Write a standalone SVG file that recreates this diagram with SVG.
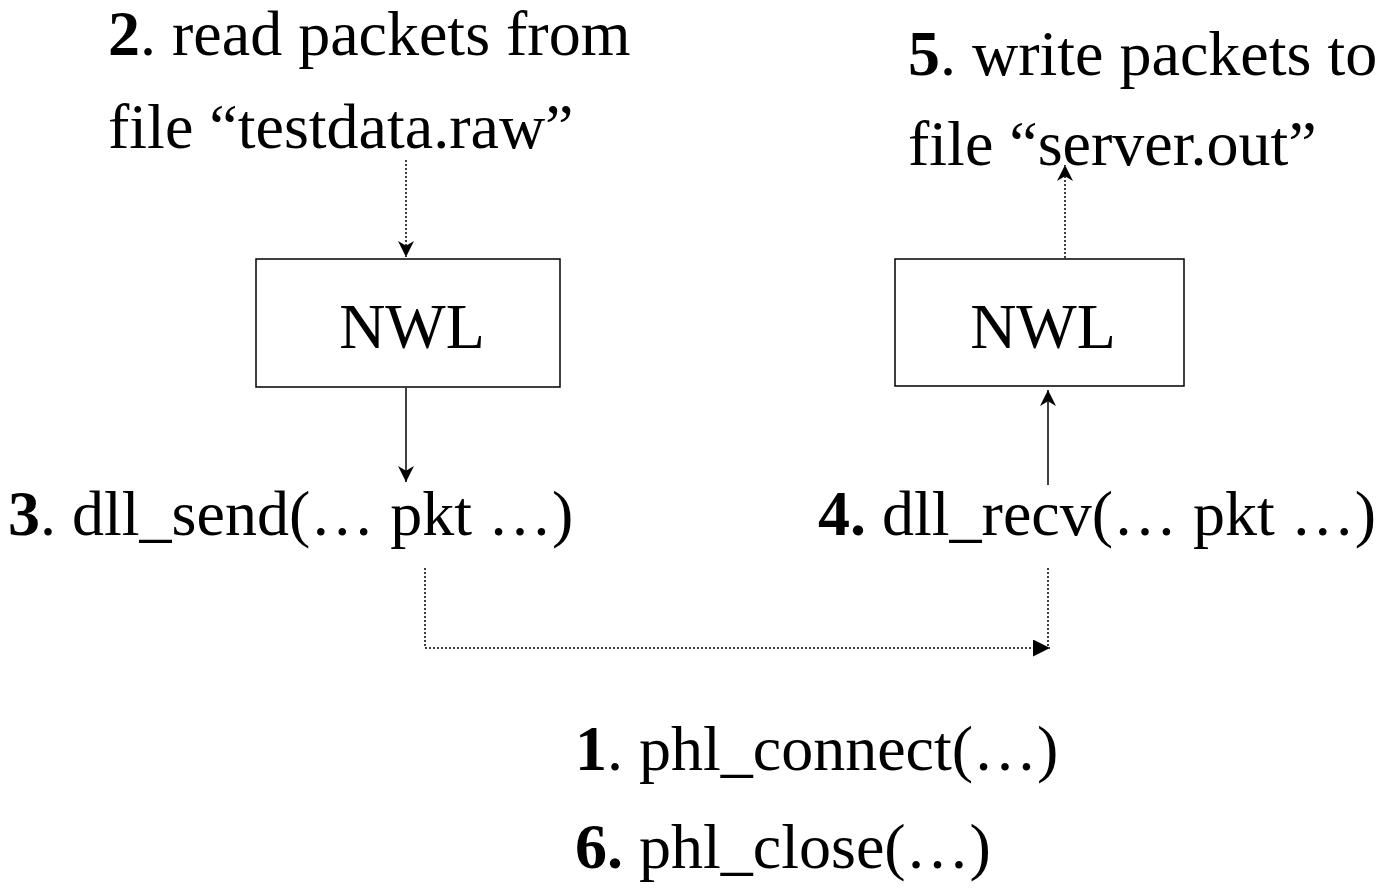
<svg xmlns="http://www.w3.org/2000/svg" width="1382" height="895" viewBox="0 0 1382 895">
<style>
text{font-family:"Liberation Serif","Times New Roman",serif;font-size:64px;fill:#000}
.b{font-weight:bold}
.box{fill:#fff;stroke:#000;stroke-width:1.5}
.solid{fill:none;stroke:#000;stroke-width:1.5}
.dot{fill:none;stroke:#000;stroke-width:1.5;stroke-dasharray:2 2}
</style>
<defs>
<marker id="ah" viewBox="0 0 10 10" refX="10" refY="5" markerWidth="18" markerHeight="16" markerUnits="userSpaceOnUse" orient="auto"><path d="M0,0 L10,5 L0,10 L3,5 z" fill="#000"/></marker>
<marker id="tri" viewBox="0 0 10 10" refX="10" refY="5" markerWidth="17" markerHeight="17" markerUnits="userSpaceOnUse" orient="auto"><path d="M0,0 L10,5 L0,10 z" fill="#000"/></marker>
</defs>
<g id="label2"><text x="108" y="55"><tspan class="b">2</tspan>. read packets from</text><text x="108" y="148">file “testdata.raw”</text></g>
<g id="label5"><text x="908" y="75"><tspan class="b">5</tspan>. write packets to</text><text x="908" y="165">file “server.out”</text></g>
<g id="nwl-left"><rect class="box" x="256" y="259" width="304" height="128"/><text x="412" y="348" text-anchor="middle">NWL</text></g>
<g id="nwl-right"><rect class="box" x="895" y="259" width="289" height="127"/><text x="1043" y="348" text-anchor="middle">NWL</text></g>
<g id="label3"><text x="8" y="535"><tspan class="b">3</tspan>. dll_send(… pkt …)</text></g>
<g id="label4"><text x="818" y="535"><tspan class="b">4.</tspan> dll_recv(… pkt …)</text></g>
<g id="label1"><text x="575" y="770"><tspan class="b">1</tspan>. phl_connect(…)</text></g>
<g id="label6"><text x="575" y="868"><tspan class="b">6.</tspan> phl_close(…)</text></g>
<g id="connectors">
<line class="dot" x1="406" y1="160" x2="406" y2="257" marker-end="url(#ah)"/>
<line class="solid" x1="406" y1="388" x2="406" y2="482" marker-end="url(#ah)"/>
<line class="solid" x1="1048" y1="485" x2="1048" y2="390" marker-end="url(#ah)"/>
<line class="dot" x1="1065" y1="258" x2="1065" y2="165" marker-end="url(#ah)"/>
<polyline class="dot" points="425,568 425,648 1050,648" marker-end="url(#tri)"/>
<line class="dot" x1="1048" y1="568" x2="1048" y2="648"/>
</g>
</svg>
